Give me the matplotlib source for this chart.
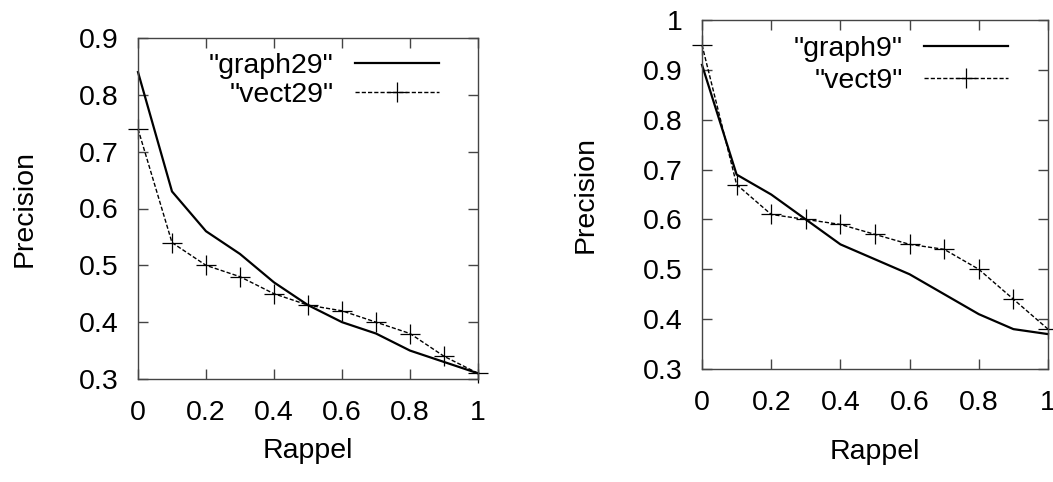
import numpy as np
import matplotlib
matplotlib.use("Agg")
import matplotlib.pyplot as plt
from matplotlib.ticker import FormatStrFormatter

# Rappel / precision values
rappel = [0.0, 0.1, 0.2, 0.3, 0.4, 0.5, 0.6, 0.7, 0.8, 0.9, 1.0]

graph29 = [0.84, 0.63, 0.56, 0.52, 0.47, 0.43, 0.40, 0.38, 0.35, 0.33, 0.31]
vect29 = [0.74, 0.54, 0.50, 0.48, 0.45, 0.43, 0.42, 0.40, 0.38, 0.34, 0.31]

graph9 = [0.91, 0.69, 0.65, 0.60, 0.55, 0.52, 0.49, 0.45, 0.41, 0.38, 0.37]
vect9 = [0.95, 0.67, 0.61, 0.60, 0.59, 0.57, 0.55, 0.54, 0.50, 0.44, 0.38]

x_ticks = [0, 0.2, 0.4, 0.6, 0.8, 1]
y_ticks_left = [0.3, 0.4, 0.5, 0.6, 0.7, 0.8, 0.9]
y_ticks_right = [0.3, 0.4, 0.5, 0.6, 0.7, 0.8, 0.9, 1.0]

plt.rcParams['font.family'] = ['Liberation Sans', 'DejaVu Sans']
FS = 20.5
FRAME = '#444444'

fig = plt.figure(figsize=(10.53, 4.82), dpi=100)
W, H = 1053.0, 482.0


def make_axes(x0, x1, top, bottom):
    return fig.add_axes([x0 / W, (H - bottom) / H, (x1 - x0) / W, (bottom - top) / H])


def style(ax, yticks, ylim, xpad, ypad):
    ax.set_xlim(0, 1)
    ax.set_ylim(*ylim)
    ax.set_xticks(x_ticks)
    ax.set_yticks(yticks)
    ax.xaxis.set_major_formatter(FormatStrFormatter('%g'))
    ax.yaxis.set_major_formatter(FormatStrFormatter('%g'))
    ax.tick_params(direction='in', top=True, right=True, length=7, width=1,
                   color=FRAME, labelsize=FS, pad=15)
    ax.tick_params(axis='y', pad=14)
    for s in ax.spines.values():
        s.set_color(FRAME)
        s.set_linewidth(1)
    ax.set_xlabel('Rappel', fontsize=FS, labelpad=xpad)
    ax.set_ylabel('Precision', fontsize=FS, labelpad=ypad)


def draw(ax, g, v, gname, vname, anchor, spacing):
    ax.plot(rappel, g, color='black', lw=1.6, label=gname, clip_on=False)
    ax.plot(rappel, v, color='black', lw=1, dashes=(3, 1.5), marker='+',
            markersize=14, markeredgewidth=0.9, label=vname, clip_on=False)
    ax.legend(loc='upper right', bbox_to_anchor=anchor, frameon=False,
              markerfirst=False, numpoints=1, fontsize=FS, borderpad=0,
              borderaxespad=0, handlelength=2.95, handletextpad=0.75,
              labelspacing=spacing)


# left panel
ax1 = make_axes(138, 478, 38, 379)
draw(ax1, graph29, vect29, '"graph29"', '"vect29"', (0.885, 0.955), 0.1)
style(ax1, y_ticks_left, (0.3, 0.9), 9, 30)

# right panel
ax2 = make_axes(702, 1048, 20, 369)
draw(ax2, graph9, vect9, '"graph9"', '"vect9"', (0.884, 0.955), 0.22)
style(ax2, y_ticks_right, (0.3, 1.0), 17, 32)

fig.savefig('out.png', dpi=100)
